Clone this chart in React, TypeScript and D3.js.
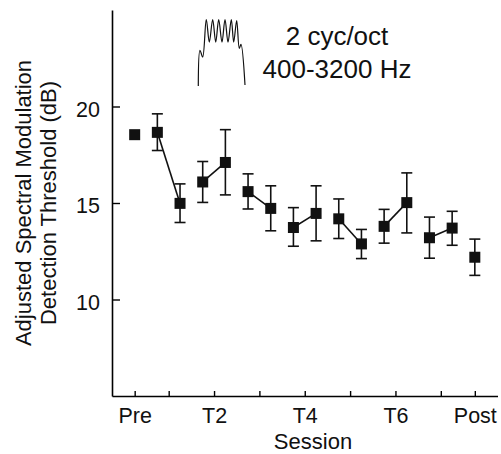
import * as d3 from 'd3';
import React, { useEffect, useRef } from 'react';

// session label of every plotted point (points of one session are joined)
const pointSession = ['Pre', 'T1', 'T1', 'T2', 'T2', 'T3', 'T3', 'T4', 'T4', 'T5', 'T5', 'T6', 'T6', 'T7', 'T7', 'Post'];
const meanValues = [18.54, 18.66, 14.98, 16.09, 17.1, 15.59, 14.72, 13.73, 14.46, 14.18, 12.88, 13.79, 15.02, 13.2, 13.7, 12.19];
const upperValues = [null, 19.62, 15.99, 17.15, 18.8, 16.51, 15.89, 14.76, 15.89, 15.21, 13.63, 14.67, 16.56, 14.27, 14.57, 13.13];
const lowerValues = [null, 17.72, 13.99, 15.03, 15.42, 14.69, 13.56, 12.76, 13.04, 13.16, 12.12, 12.92, 13.45, 12.14, 12.81, 11.25];

// x ticks sit in the middle of each session
const xTickValues = [0, 1.5, 3.5, 5.5, 7.5, 9.5, 11.5, 13.5, 15];
const xTickLabels = ['Pre', '', 'T2', '', 'T4', '', 'T6', '', 'Post'];
const yTickValues = [10, 15, 20];

// stimulus spectrum sketch for the inset (normalised frequency / level)
const insetFreq = [0, 0.036, 0.094, 0.171, 0.236, 0.308, 0.373, 0.437, 0.507, 0.572, 0.636, 0.707, 0.758, 0.822, 0.878, 0.914, 1];
const insetLevel = [0, 0.537, 0.437, 1, 0.661, 1, 0.661, 1, 0.661, 1, 0.661, 1, 0.661, 0.985, 0.567, 0.627, 0.015];

const FONT = '"Liberation Sans", Arial, Helvetica, sans-serif';

const App = () => {
    const ref = useRef<SVGSVGElement>(null);
    const width = 501;
    const height = 454;

    useEffect(() => {
        const svg = d3.select(ref.current);
        svg.selectAll('*').remove();

        const x = d3.scaleLinear().domain([-1, 16]).range([112, 497.5]);
        const y = d3.scaleLinear().domain([5, 25]).range([396, 10]);

        // axes
        const xAxis = svg.append('g')
            .attr('transform', 'translate(0,396)')
            .call(d3.axisBottom(x)
                .tickValues(xTickValues)
                .tickSizeInner(-5)
                .tickSizeOuter(0)
                .tickPadding(12)
                .tickFormat((d, i) => xTickLabels[i]));
        xAxis.select('.domain').attr('stroke-width', 1.6);
        xAxis.selectAll('.tick line').attr('stroke-width', 1.4);
        xAxis.selectAll('.tick text')
            .attr('font-family', FONT).attr('font-size', 21.5).attr('fill', '#111');

        const yAxis = svg.append('g')
            .attr('transform', 'translate(112,0)')
            .call(d3.axisLeft(y)
                .tickValues(yTickValues)
                .tickSizeInner(-8)
                .tickSizeOuter(0)
                .tickPadding(12));
        yAxis.select('.domain').attr('stroke-width', 1.6);
        yAxis.selectAll('.tick line').attr('stroke-width', 1.4);
        yAxis.selectAll('.tick text')
            .attr('font-family', FONT).attr('font-size', 21.5).attr('fill', '#111')
            .attr('dy', '0.45em');

        // axis titles
        svg.append('text')
            .attr('x', 313).attr('y', 449)
            .attr('text-anchor', 'middle')
            .attr('font-family', FONT).attr('font-size', 22).attr('fill', '#111')
            .text('Session');
        const yTitle = svg.append('text')
            .attr('transform', 'translate(31,203) rotate(-90)')
            .attr('text-anchor', 'middle')
            .attr('font-family', FONT).attr('font-size', 22).attr('fill', '#111');
        yTitle.append('tspan').attr('x', 0).attr('y', 0).text('Adjusted Spectral Modulation');
        yTitle.append('tspan').attr('x', 0).attr('y', 25).text('Detection Threshold (dB)');

        // data
        const pts = meanValues.map((v, i) => ({
            i, v, s: pointSession[i], hi: upperValues[i], lo: lowerValues[i]
        }));

        const line = d3.line<any>().x(d => x(d.i)).y(d => y(d.v));
        const groups = d3.groups(pts, d => d.s);
        svg.append('g').selectAll('path')
            .data(groups.filter(g => g[1].length > 1))
            .enter().append('path')
            .attr('d', g => line(g[1]))
            .attr('fill', 'none').attr('stroke', '#111').attr('stroke-width', 1.6);

        const bars = svg.append('g').attr('stroke', '#111').attr('stroke-width', 1.6);
        const withErr = pts.filter(d => d.hi != null);
        const cap = 5.5;
        bars.selectAll('.stem').data(withErr).enter().append('line')
            .attr('x1', d => x(d.i)).attr('x2', d => x(d.i))
            .attr('y1', d => y(d.hi)).attr('y2', d => y(d.lo));
        bars.selectAll('.capHi').data(withErr).enter().append('line')
            .attr('x1', d => x(d.i) - cap).attr('x2', d => x(d.i) + cap)
            .attr('y1', d => y(d.hi)).attr('y2', d => y(d.hi));
        bars.selectAll('.capLo').data(withErr).enter().append('line')
            .attr('x1', d => x(d.i) - cap).attr('x2', d => x(d.i) + cap)
            .attr('y1', d => y(d.lo)).attr('y2', d => y(d.lo));

        const sq = 11;
        svg.append('g').selectAll('rect').data(pts).enter().append('rect')
            .attr('x', d => x(d.i) - sq / 2).attr('y', d => y(d.v) - sq / 2)
            .attr('width', sq).attr('height', sq)
            .attr('fill', '#111');

        // inset: spectrum sketch + description
        const fx = d3.scaleLinear().domain([0, 1]).range([198.3, 245]);
        const fy = d3.scaleLinear().domain([0, 1]).range([86, 19.5]);
        const inset = d3.line<number>()
            .x((d, i) => fx(insetFreq[i]))
            .y(d => fy(d))
            .curve(d3.curveCatmullRom.alpha(0.5));
        svg.append('path')
            .attr('d', inset(insetLevel))
            .attr('fill', 'none').attr('stroke', '#111').attr('stroke-width', 1.2);

        svg.append('text')
            .attr('x', 337).attr('y', 45)
            .attr('text-anchor', 'middle')
            .attr('font-family', FONT).attr('font-size', 26).attr('fill', '#111')
            .text('2 cyc/oct');
        svg.append('text')
            .attr('x', 337).attr('y', 78)
            .attr('text-anchor', 'middle')
            .attr('font-family', FONT).attr('font-size', 26).attr('fill', '#111')
            .text('400-3200 Hz');
    }, []);

    return (
        <div>
            <svg ref={ref} width={width} height={height}
                style={{ position: 'absolute', left: 0, top: 0, background: '#fff' }}>
            </svg>
        </div>
    );
};

export default App;
